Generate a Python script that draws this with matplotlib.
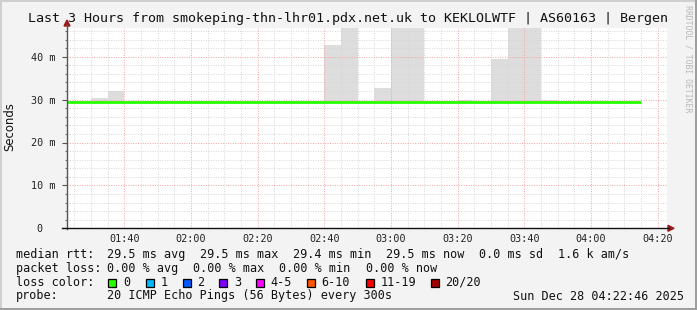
import matplotlib
matplotlib.use("Agg")
import matplotlib.pyplot as plt
from matplotlib.patches import Rectangle, Polygon
from matplotlib.lines import Line2D
import numpy as np

# --- data (5 minute steps, ms) ---
slot_times = ["01:20", "01:25", "01:30", "01:35", "01:40", "01:45", "01:50",
              "01:55", "02:00", "02:05", "02:10", "02:15", "02:20", "02:25",
              "02:30", "02:35", "02:40", "02:45", "02:50", "02:55", "03:00",
              "03:05", "03:10", "03:15", "03:20", "03:25", "03:30", "03:35",
              "03:40", "03:45", "03:50", "03:55", "04:00", "04:05", "04:10"]
median_rtt = [29.5, 29.5, 29.5, 29.5, 29.5, 29.5, 29.5, 29.5, 29.5, 29.5,
              29.5, 29.5, 29.5, 29.5, 29.5, 29.5, 29.5, 29.5, 29.5, 29.5,
              29.5, 29.5, 29.5, 29.4, 29.5, 29.5, 29.5, 29.5, 29.5, 29.5,
              29.5, 29.5, 29.5, 29.5, 29.5]
smoke_max = [29.6, 29.6, 30.4, 32.1, 29.6, 29.6, 29.6, 29.6, 29.6, 29.6,
             29.6, 29.6, 29.6, 29.6, 29.6, 29.6, 42.7, 52.0, 29.6, 32.7,
             55.0, 55.0, 29.6, 29.6, 29.9, 29.6, 39.5, 58.0, 58.0, 30.0,
             29.6, 29.6, 29.6, 29.6, 29.6]
smoke_min = [29.2] * len(slot_times)

yticks = [0, 10, 20, 30, 40]
ytick_labels = ["0  ", "10 m", "20 m", "30 m", "40 m"]
xticks_min = [100, 120, 140, 160, 180, 200, 220, 240, 260]

loss_labels = ["0", "1", "2", "3", "4-5", "6-10", "11-19", "20/20"]
loss_colors = ["#26ff00", "#00b8ff", "#0059ff", "#7e00ff", "#ff00ff",
               "#ff5500", "#ff0000", "#a10000"]

title = "Last 3 Hours from smokeping-thn-lhr01.pdx.net.uk to KEKLOLWTF | AS60163 | Bergen"
stamp = "Sun Dec 28 04:22:46 2025"
t_start = 1 * 60 + 22 + 46 / 60.0   # 01:22:46
t_end = t_start + 180

W, H = 697, 310
MONO = "DejaVu Sans Mono"


def px(x, y):
    return x / W, 1 - y / H


def to_min(s):
    h, m = s.split(":")
    return int(h) * 60 + int(m)


fig = plt.figure(figsize=(W / 100, H / 100), dpi=100, facecolor="#f3f3f3")

ax_l, ax_r, ax_t, ax_b = 67, 667, 28, 228.3
ax = fig.add_axes([ax_l / W, (H - ax_b) / H, (ax_r - ax_l) / W, (ax_b - ax_t) / H])
ax.set_facecolor("white")

edges = [to_min(s) for s in slot_times] + [to_min(slot_times[-1]) + 5]
ax.stairs(smoke_max, edges, baseline=smoke_min, fill=True, color="#dddddd", zorder=1)
ax.stairs(median_rtt, edges, baseline=None, color="#26ff00", lw=2.0, zorder=4)

ax.set_xlim(t_start, t_end)
ax.set_ylim(0, (ax_b - ax_t) / 4.29)

ax.set_yticks(yticks)
ax.set_yticklabels(ytick_labels, family=MONO, fontsize=7.3, color="#222222")
ax.set_yticks(np.arange(0, 47, 2), minor=True)
ax.set_xticks(xticks_min)
ax.set_xticklabels(["%02d:%02d" % (m // 60, m % 60) for m in xticks_min],
                   family=MONO, fontsize=7.3, color="#222222")
ax.set_xticks(np.arange(85, 265, 5), minor=True)

ax.tick_params(axis="y", which="major", length=3.5, width=0.8, color="#555555", pad=5)
ax.tick_params(axis="y", which="minor", length=1.5, width=0.8, color="#777777")
ax.tick_params(axis="x", which="both", length=0, pad=4)

ax.grid(which="minor", color="#d6d6d6", ls=(0, (1, 1.5)), lw=0.7)
ax.grid(which="major", color="#f4a3a3", ls=(0, (1, 1.5)), lw=0.7)
ax.set_axisbelow(False)

for s in ax.spines.values():
    s.set_visible(False)

# axes lines with arrows (rrdtool style)
fig.add_artist(Line2D(*zip(px(67, 229), px(67, 25)), color="#555555", lw=1.0))
fig.add_artist(Line2D(*zip(px(62, 228.3), px(669, 228.3)), color="#111111", lw=1.0))
fig.add_artist(Polygon([px(64, 26), px(70, 26), px(67, 20)], closed=True,
                       transform=fig.transFigure, color="#9b1c1c"))
fig.add_artist(Polygon([px(668, 225.3), px(668, 231.3), px(674, 228.3)], closed=True,
                       transform=fig.transFigure, color="#9b1c1c"))

# frame: light top/left, dark bottom/right
fig.add_artist(Rectangle((0, 0), 2 / W, 1, transform=fig.transFigure, color="#cfcfcf", lw=0))
fig.add_artist(Rectangle((0, 1 - 2 / H), 1, 2 / H, transform=fig.transFigure, color="#cfcfcf", lw=0))
fig.add_artist(Rectangle((1 - 2 / W, 0), 2 / W, 1, transform=fig.transFigure, color="#9e9e9e", lw=0))
fig.add_artist(Rectangle((0, 0), 1, 2 / H, transform=fig.transFigure, color="#9e9e9e", lw=0))

fig.text(*px(348.5, 18.5), title, family=MONO, fontsize=9.6, ha="center", va="center",
         color="#111111")
fig.text(*px(10, 127), "Seconds", rotation=90, fontsize=8.4, ha="center", va="center",
         color="#111111")
fig.text(*px(688, 5), "RRDTOOL / TOBI OETIKER", rotation=270, family=MONO, fontsize=5.9,
         ha="center", va="top", color="#b8b8b8")

# legend rows
fs = 8.5
rows = [
    (254.3, [(16, "median rtt:"), (107.3, "29.5 ms avg"), (200, "29.5 ms max"),
             (293.3, "29.4 ms min"), (385.7, "29.5 ms now"), (479.3, "0.0 ms sd"),
             (558.3, "1.6 k am/s")]),
    (268.3, [(16, "packet loss:"), (107.3, "0.00 % avg"), (193.3, "0.00 % max"),
             (279.3, "0.00 % min"), (365.7, "0.00 % now")]),
    (282.3, [(16, "loss color:")]),
    (296, [(16, "probe:"), (107.3, "20 ICMP Echo Pings (56 Bytes) every 300s"),
           (513.3, stamp)]),
]
for y, items in rows:
    for x, s in items:
        fig.text(*px(x, y), s, family=MONO, fontsize=fs, ha="left", va="center",
                 color="#111111")

box_x = [108.3, 145.7, 182.7, 219.3, 256, 307, 365.7, 430.7]
for bx, lab, col in zip(box_x, loss_labels, loss_colors):
    fig.add_artist(Rectangle(px(bx, 286.5), 8 / W, 8 / H, transform=fig.transFigure,
                             facecolor=col, edgecolor="black", lw=0.9))
    fig.text(*px(bx + 14.7, 282.3), lab, family=MONO, fontsize=fs, ha="left",
             va="center", color="#111111")

fig.savefig("out.png", dpi=100, facecolor=fig.get_facecolor())
